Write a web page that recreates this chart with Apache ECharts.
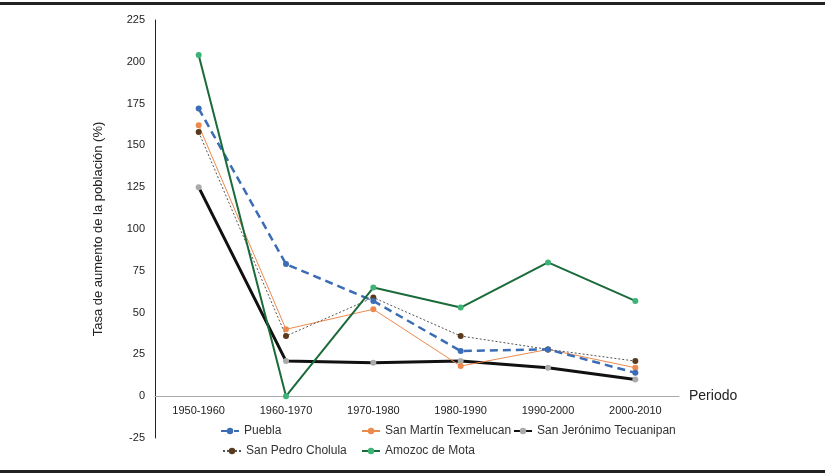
<!DOCTYPE html>
<html><head><meta charset="utf-8">
<script src="https://cdn.jsdelivr.net/npm/echarts@6/dist/echarts.min.js"></script>
<style>html,body{margin:0;padding:0;background:#fff}#c{width:825px;height:476px}</style>
</head><body><div id="c"></div>
<script>
const categories = ['1950-1960','1960-1970','1970-1980','1980-1990','1990-2000','2000-2010'];
const puebla = [172, 79, 57, 27, 28, 14];
const sanMartin = [162, 40, 52, 18, 28, 17];
const sanJeronimo = [125, 21, 20, 21, 17, 10];
const sanPedro = [158, 36, 59, 36, 28, 21];
const amozoc = [204, 0, 65, 53, 80, 57];
const yTicks = {min: -25, max: 225, interval: 25};

const font = 'Liberation Sans, Arial, sans-serif';
const chart = echarts.init(document.getElementById('c'));
function leg(name, left, top){
  return {data:[name], left:left, top:top, itemWidth:18, itemHeight:8, itemGap:10,
    textStyle:{fontFamily:font, fontSize:12, color:'#333'}, padding:0};
}
chart.setOption({
  animation:false,
  backgroundColor:'#fff',
  textStyle:{fontFamily:font},
  grid:{left:155, right:146, top:20, bottom:38, containLabel:false},
  legend:[
    leg('Puebla',220,425),
    leg('San Martín Texmelucan',361,425),
    leg('San Jerónimo Tecuanipan',513,425),
    leg('San Pedro Cholula',222,445),
    leg('Amozoc de Mota',361,445)
  ],
  xAxis:{type:'category', data:categories, boundaryGap:true, offset:-42,
    name:'Periodo', nameLocation:'end', nameGap:10,
    nameTextStyle:{fontFamily:font, fontSize:14, color:'#222', verticalAlign:'middle'},
    axisLine:{onZero:false, lineStyle:{color:'#aaa', width:1}},
    axisTick:{show:false},
    axisLabel:{fontFamily:font, fontSize:11, color:'#222', margin:9}},
  yAxis:{type:'value', min:yTicks.min, max:yTicks.max, interval:yTicks.interval,
    name:'Tasa de aumento de la población (%)', nameLocation:'middle', nameGap:50,
    nameTextStyle:{fontFamily:font, fontSize:13, color:'#222'},
    axisLine:{show:true, lineStyle:{color:'#222', width:1}},
    axisTick:{show:false}, splitLine:{show:false},
    axisLabel:{fontFamily:font, fontSize:11, color:'#222', margin:10}},
  graphic:[
    {type:'rect', shape:{x:0,y:2,width:825,height:3}, style:{fill:'#222'}},
    {type:'rect', shape:{x:0,y:470,width:825,height:3}, style:{fill:'#222'}}
  ],
  series:[
    {name:'Puebla', type:'line', data:puebla, symbol:'circle', symbolSize:6, z:4,
      itemStyle:{color:'#3A6DB5'}, lineStyle:{color:'#3A6DB5', width:2.5, type:[8,5]}},
    {name:'San Martín Texmelucan', type:'line', data:sanMartin, symbol:'circle', symbolSize:6, z:3,
      itemStyle:{color:'#EC8A4E'}, lineStyle:{color:'#EC8A4E', width:1}},
    {name:'San Jerónimo Tecuanipan', type:'line', data:sanJeronimo, symbol:'circle', symbolSize:6, z:2,
      itemStyle:{color:'#AAAAAA'}, lineStyle:{color:'#111', width:3}},
    {name:'San Pedro Cholula', type:'line', data:sanPedro, symbol:'circle', symbolSize:6, z:3,
      itemStyle:{color:'#5A3A1E'}, lineStyle:{color:'#555', width:1, type:[2,2]}},
    {name:'Amozoc de Mota', type:'line', data:amozoc, symbol:'circle', symbolSize:6, z:5,
      itemStyle:{color:'#3DB377'}, lineStyle:{color:'#1B6B3A', width:2}}
  ]
});
</script></body></html>
